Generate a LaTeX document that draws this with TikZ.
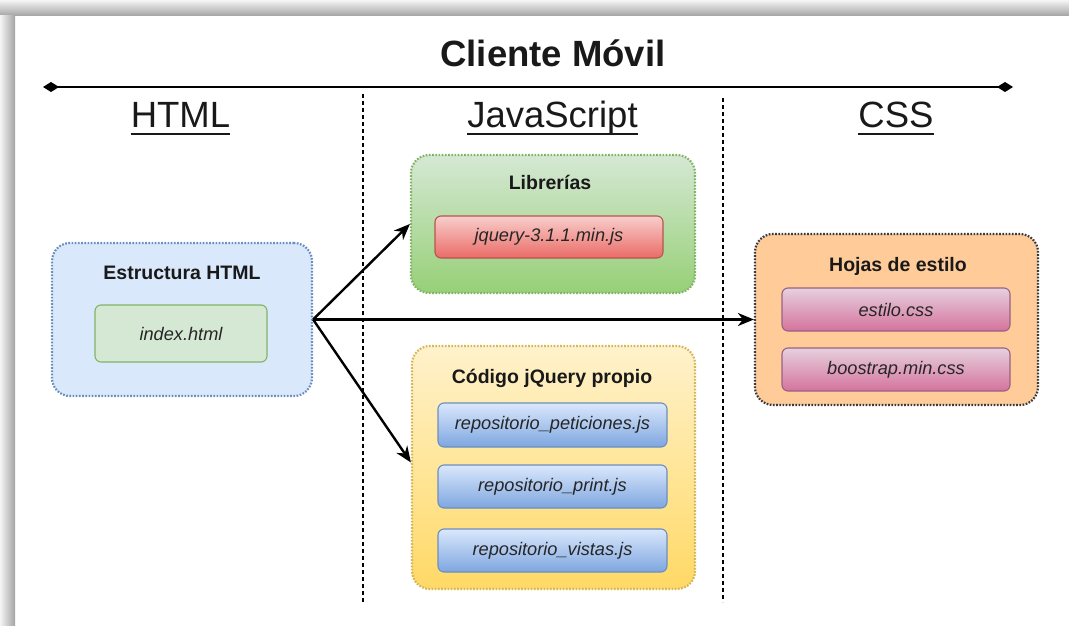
\documentclass[tikz,border=0pt]{standalone}
\usepackage{fontspec}
\setmainfont{Liberation Sans}
\usetikzlibrary{arrows.meta}

\definecolor{blueFill}{HTML}{DAE8FC}
\definecolor{blueLine}{HTML}{6C8EBF}
\definecolor{blueDark}{HTML}{7EA6E0}
\definecolor{greenFill}{HTML}{D5E8D4}
\definecolor{greenDark}{HTML}{97D077}
\definecolor{greenLine}{HTML}{82B366}
\definecolor{redFill}{HTML}{F8CECC}
\definecolor{redDark}{HTML}{EA6B66}
\definecolor{redLine}{HTML}{B85450}
\definecolor{yellowFill}{HTML}{FFF2CC}
\definecolor{yellowDark}{HTML}{FFD966}
\definecolor{yellowLine}{HTML}{D6B656}
\definecolor{orangeFill}{HTML}{FFCC99}
\definecolor{orangeLine}{HTML}{36393D}
\definecolor{pinkFill}{HTML}{E6D0DE}
\definecolor{pinkDark}{HTML}{D5739D}
\definecolor{pinkLine}{HTML}{996185}

\begin{document}
\begin{tikzpicture}[x=1pt, y=-1pt,
  grp/.style={rounded corners=18pt, line width=2.2pt,
    dash pattern=on 1.7pt off 1.5pt, inner sep=0pt},
  file/.style={rounded corners=6pt, line width=1.1pt, inner sep=0pt,
    font=\fontsize{18.2}{20}\selectfont\itshape, text=black!85},
  ttl/.style={anchor=base, inner sep=0pt,
    font=\fontsize{19.5}{22}\selectfont\bfseries, text=black!90},
  hdr/.style={anchor=base, inner sep=0pt,
    font=\fontsize{36.5}{40}\selectfont, text=black!90},
  uline/.style={line width=2.3pt, black!90},
  sep/.style={line width=1.2pt, dash pattern=on 4pt off 3pt},
  link/.style={line width=2.4pt, -{Stealth[length=16pt,width=13pt,inset=5pt]}}
]
\useasboundingbox (0,0) rectangle (1069,626);

% page with drop shadow on top and left
\fill[white] (0,0) rectangle (1069,626);
\fill[top color=gray!8, bottom color=gray!72] (0,0) rectangle (1069,16);
\fill[left color=gray!8, right color=gray!72] (0,16) rectangle (15,626);

% title and timeline
\node[hdr, font=\fontsize{36.5}{40}\selectfont\bfseries] (title) at (553,66.5) {Cliente Móvil};
\coordinate (lineL) at (43,87);
\coordinate (lineR) at (1013,87);
\draw[line width=2.3pt, {Diamond[length=16pt,width=10pt]}-{Diamond[length=16pt,width=10pt]}] (lineL) -- (lineR);

% column headers
\node[hdr] (hHTML) at (180.5,128) {HTML};
\node[hdr] (hJS) at (552.5,128) {JavaScript};
\node[hdr] (hCSS) at (896,128) {CSS};
\foreach \h in {hHTML,hJS,hCSS}
  \draw[uline] ([yshift=-5.8pt]\h.base west) -- ([yshift=-5.8pt]\h.base east);

% column separators
\coordinate (s1t) at (363,94);
\coordinate (s1b) at (363,602);
\coordinate (s2t) at (723,98);
\coordinate (s2b) at (723,602);
\draw[sep] (s1t) -- (s1b);
\draw[sep] (s2t) -- (s2b);

% HTML group
\node[grp, draw=blueLine, fill=blueFill, minimum width=260pt, minimum height=153pt] (html) at (182,319.5) {};
\node[ttl] (htmlT) at (182,279) {Estructura HTML};
\node[file, draw=greenLine, fill=greenFill, minimum width=172pt, minimum height=57pt] (index) at (181,333.5) {index.html};

% JavaScript libraries group
\node[grp, draw=greenLine, top color=greenFill, bottom color=greenDark, minimum width=284pt, minimum height=138pt] (lib) at (553,224) {};
\node[ttl] (libT) at (550,189) {Librerías};
\node[file, draw=redLine, top color=redFill, bottom color=redDark, minimum width=228pt, minimum height=42pt] (jq) at (549,237) {jquery-3.1.1.min.js};

% own jQuery code group
\node[grp, draw=yellowLine, top color=yellowFill, bottom color=yellowDark, minimum width=283pt, minimum height=243pt] (cod) at (553.5,467.5) {};
\node[ttl] (codT) at (552,383) {Código jQuery propio};
\node[file, draw=blueLine, top color=blueFill, bottom color=blueDark, minimum width=229pt, minimum height=44pt] (rpet) at (552.5,425) {repositorio\_peticiones.js};
\node[file, draw=blueLine, top color=blueFill, bottom color=blueDark, minimum width=229pt, minimum height=43pt] (rpri) at (552.5,486.5) {repositorio\_print.js};
\node[file, draw=blueLine, top color=blueFill, bottom color=blueDark, minimum width=229pt, minimum height=43pt] (rvis) at (552.5,550.5) {repositorio\_vistas.js};

% stylesheet group
\node[grp, draw=orangeLine, fill=orangeFill, minimum width=283pt, minimum height=171pt] (css) at (896.5,319.5) {};
\node[ttl] (cssT) at (898,271) {Hojas de estilo};
\node[file, draw=pinkLine, top color=pinkFill, bottom color=pinkDark, minimum width=228pt, minimum height=43pt] (est) at (896,309.5) {estilo.css};
\node[file, draw=pinkLine, top color=pinkFill, bottom color=pinkDark, minimum width=228pt, minimum height=43pt] (boo) at (896,369.5) {boostrap.min.css};

% connections
\draw[link] (html.east) -- (lib.west);
\draw[link] (html.east) -- ([yshift=5pt]cod.west);
\draw[link] (html.east) -- (css.west);
\end{tikzpicture}
\end{document}
